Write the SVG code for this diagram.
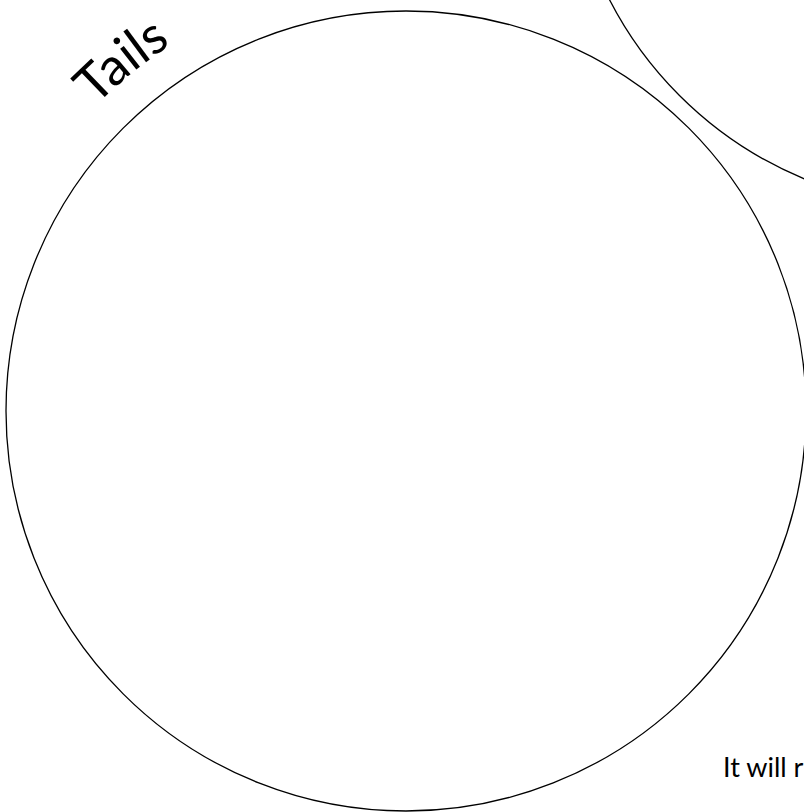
<svg xmlns="http://www.w3.org/2000/svg" width="804" height="812" viewBox="0 0 804 812">
  <style>
    .ring { fill: none; stroke: #000; stroke-width: 1.3; }
    .lbl { font-family: Lato, "Open Sans", "Liberation Sans", sans-serif; fill: #000; }
  </style>
  <defs>
    <path id="tailsPath" d="M 95.7 106.1 A 435 435 0 0 1 345.5 -19.8"/>
  </defs>
  <rect width="804" height="812" fill="#fff"/>
  <g id="tails">
    <circle class="ring" cx="406" cy="411" r="400"/>
    <text class="lbl" font-size="52"><textPath href="#tailsPath">Tails</textPath></text>
  </g>
  <g id="heads">
    <circle class="ring" cx="951" cy="-176" r="384"/>
  </g>
  <g id="note">
    <text class="lbl" x="723" y="777" font-size="27">It will r</text>
  </g>
  <g id="connectors"/>
</svg>
